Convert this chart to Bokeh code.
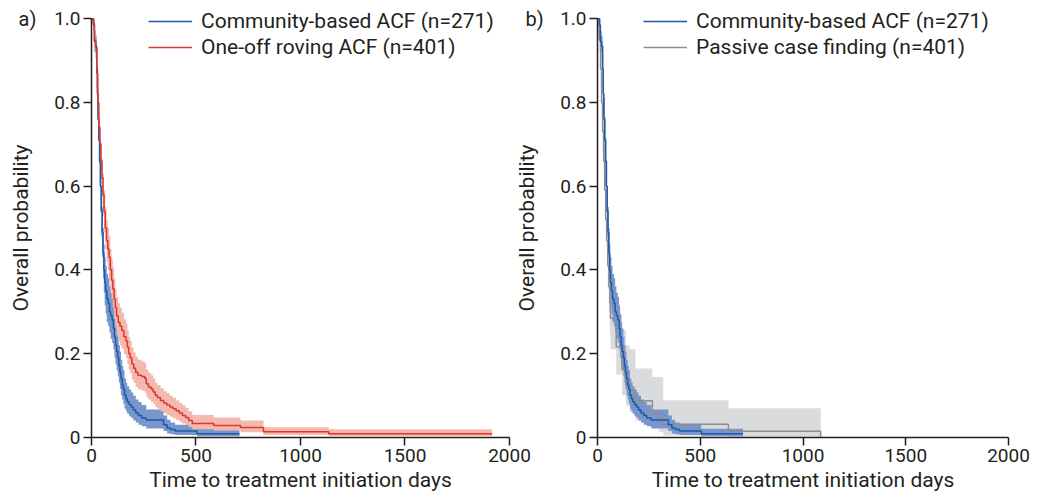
from bokeh.plotting import figure
from bokeh.layouts import row
from bokeh.models import Range1d, FixedTicker, Legend, LegendItem, Label
from bokeh.embed import file_html
from bokeh.resources import INLINE

FONT = "Roboto"
TXT = "#231f20"

# ---------------- data ----------------
x_ticks = [0, 500, 1000, 1500, 2000]
y_ticks = [0, 0.2, 0.4, 0.6, 0.8, 1.0]
y_tick_labels = ["0", "0.2", "0.4", "0.6", "0.8", "1.0"]

x_label = "Time to treatment initiation days"
y_label = "Overall probability"

community_label = "Community-based ACF (n=271)"
roving_label = "One-off roving ACF (n=401)"
passive_label = "Passive case finding (n=401)"

community_days = [0, 10, 14, 20, 25, 28, 31, 35, 39, 43, 47, 51, 55, 59, 63, 68, 73, 80, 86, 92,
                  99, 105, 110, 115, 120, 126, 131, 136, 141, 147, 152, 158, 165, 171, 180, 190,
                  200, 212, 225, 240, 262, 345, 362, 378, 400, 505, 708]
community_surv = [1.0, 0.985, 0.946, 0.935, 0.88, 0.82, 0.76, 0.71, 0.66, 0.60, 0.54, 0.49, 0.44,
                  0.40, 0.37, 0.35, 0.33, 0.32, 0.30, 0.29, 0.28, 0.26, 0.24, 0.22, 0.205, 0.19,
                  0.17, 0.155, 0.14, 0.125, 0.115, 0.10, 0.092, 0.085, 0.078, 0.072, 0.065, 0.058,
                  0.052, 0.046, 0.041, 0.030, 0.022, 0.0185, 0.015, 0.0085, 0.0085]
community_lo = [1.0, 0.97, 0.92, 0.905, 0.84, 0.775, 0.71, 0.655, 0.60, 0.54, 0.48, 0.43, 0.38,
                0.345, 0.315, 0.295, 0.275, 0.265, 0.25, 0.235, 0.225, 0.21, 0.19, 0.175, 0.16,
                0.145, 0.13, 0.115, 0.10, 0.09, 0.08, 0.068, 0.062, 0.056, 0.05, 0.046, 0.04,
                0.035, 0.03, 0.026, 0.021, 0.015, 0.009, 0.007, 0.005, 0.002, 0.002]
community_hi = [1.0, 1.0, 0.97, 0.96, 0.915, 0.86, 0.81, 0.765, 0.715, 0.66, 0.60, 0.55, 0.50,
                0.46, 0.43, 0.41, 0.39, 0.38, 0.36, 0.345, 0.335, 0.315, 0.295, 0.275, 0.26,
                0.24, 0.22, 0.205, 0.185, 0.17, 0.16, 0.14, 0.13, 0.122, 0.114, 0.107, 0.099,
                0.09, 0.084, 0.077, 0.066, 0.052, 0.042, 0.035, 0.03, 0.02, 0.02]

roving_days = [0, 8, 14, 20, 25, 30, 35, 40, 45, 50, 55, 60, 66, 72, 78, 84, 90, 96, 102, 108,
               114, 120, 128, 136, 145, 155, 165, 172, 178, 185, 193, 202, 211, 222, 240, 255,
               262, 272, 285, 295, 305, 315, 330, 345, 360, 375, 390, 405, 420, 435, 450, 465,
               482, 585, 713, 823, 1135, 1917]
roving_surv = [1.0, 0.99, 0.95, 0.93, 0.87, 0.80, 0.74, 0.70, 0.66, 0.62, 0.58, 0.54, 0.50, 0.47,
               0.45, 0.43, 0.40, 0.375, 0.355, 0.33, 0.31, 0.29, 0.275, 0.265, 0.255, 0.24, 0.23,
               0.215, 0.20, 0.19, 0.175, 0.165, 0.155, 0.148, 0.145, 0.14, 0.128, 0.12, 0.115,
               0.108, 0.10, 0.095, 0.088, 0.082, 0.077, 0.072, 0.068, 0.063, 0.058, 0.052, 0.047,
               0.04, 0.033, 0.028, 0.023, 0.013, 0.0085, 0.0085]
roving_lo = [1.0, 0.98, 0.93, 0.905, 0.835, 0.76, 0.70, 0.655, 0.615, 0.575, 0.53, 0.49, 0.45,
             0.42, 0.40, 0.38, 0.35, 0.33, 0.31, 0.285, 0.265, 0.245, 0.23, 0.22, 0.212, 0.198,
             0.19, 0.175, 0.162, 0.152, 0.138, 0.13, 0.12, 0.114, 0.111, 0.107, 0.096, 0.09,
             0.085, 0.079, 0.072, 0.068, 0.062, 0.057, 0.053, 0.049, 0.045, 0.041, 0.037, 0.033,
             0.029, 0.024, 0.019, 0.016, 0.012, 0.005, 0.003, 0.003]
roving_hi = [1.0, 1.0, 0.97, 0.955, 0.90, 0.835, 0.78, 0.745, 0.705, 0.665, 0.63, 0.59, 0.55,
             0.52, 0.50, 0.48, 0.45, 0.425, 0.405, 0.38, 0.355, 0.335, 0.32, 0.31, 0.298, 0.282,
             0.272, 0.255, 0.24, 0.23, 0.214, 0.203, 0.192, 0.185, 0.181, 0.176, 0.162, 0.154,
             0.148, 0.14, 0.13, 0.125, 0.117, 0.11, 0.105, 0.099, 0.094, 0.088, 0.082, 0.076,
             0.07, 0.062, 0.053, 0.047, 0.04, 0.024, 0.019, 0.019]

passive_days = [0, 2, 9, 15, 20, 25, 30, 35, 40, 45, 50, 55, 60, 63, 91, 119, 138, 157, 185,
                267, 300, 320, 637, 1086]
passive_surv = [1.0, 0.982, 0.95, 0.88, 0.80, 0.73, 0.66, 0.59, 0.52, 0.47, 0.41, 0.36, 0.32,
                0.284, 0.216, 0.162, 0.124, 0.112, 0.087, 0.058, 0.045, 0.031, 0.0144, 0.0]
passive_lo = [1.0, 0.96, 0.92, 0.84, 0.755, 0.68, 0.61, 0.535, 0.465, 0.415, 0.355, 0.30, 0.25,
              0.21, 0.15, 0.10, 0.075, 0.06, 0.04, 0.022, 0.012, 0.004, 0.001, 0.0]
passive_hi = [1.0, 1.0, 0.975, 0.915, 0.84, 0.775, 0.71, 0.645, 0.575, 0.525, 0.465, 0.42, 0.39,
              0.35, 0.29, 0.256, 0.22, 0.21, 0.164, 0.144, 0.144, 0.0885, 0.069, 0.0]

BLUE = "#1c5aa8"
BLUE_BAND = "#7896cb"
RED = "#e0342c"
RED_BAND = "#f3b8ae"
GREY = "#8e8e8e"
GREY_BAND = "#dadbdd"

H = 498
Y0, Y1 = -0.1465, 1.0437


def make_fig(width, x0, x1, panel_text, panel_x):
    p = figure(width=width, height=H, x_range=Range1d(x0, x1), y_range=Range1d(Y0, Y1),
               output_backend="svg", toolbar_location=None,
               min_border_left=0, min_border_right=0, min_border_top=0, min_border_bottom=0)
    p.grid.visible = False
    p.outline_line_color = None
    p.background_fill_alpha = 0
    p.border_fill_alpha = 0

    for ax in (p.xaxis[0], p.yaxis[0]):
        ax.fixed_location = 0
        ax.axis_line_color = TXT
        ax.axis_line_width = 1.5
        ax.major_tick_line_color = TXT
        ax.major_tick_line_width = 1.5
        ax.major_tick_out = 8
        ax.major_tick_in = 0
        ax.minor_tick_line_color = None
        ax.major_label_text_font = FONT
        ax.major_label_text_font_size = "19px"
        ax.major_label_text_color = TXT
        ax.axis_label_text_font = FONT
        ax.axis_label_text_font_size = "21px"
        ax.axis_label_text_font_style = "normal"
        ax.axis_label_text_color = TXT

    xa = p.xaxis[0]
    xa.ticker = FixedTicker(ticks=x_ticks)
    xa.bounds = (0, 2000)
    xa.axis_label = x_label
    xa.major_label_standoff = 4
    xa.axis_label_standoff = 2

    ya = p.yaxis[0]
    ya.ticker = FixedTicker(ticks=y_ticks)
    ya.bounds = (0, 1.0)
    ya.major_label_overrides = {t: s for t, s in zip(y_ticks, y_tick_labels)}
    ya.axis_label = y_label
    ya.major_label_standoff = 3
    ya.axis_label_standoff = 18

    p.add_layout(Label(x=panel_x, y=1.0, text=panel_text, text_font=FONT,
                       text_font_size="20px", text_color=TXT,
                       text_baseline="middle", text_align="left"))
    return p


def style_legend(items, vx):
    return Legend(items=items, location=(vx, H - 60), border_line_color=None,
                  background_fill_alpha=0, label_text_font=FONT,
                  label_text_font_size="21px", label_text_color=TXT,
                  glyph_width=44, glyph_height=26, label_height=26,
                  label_standoff=9, spacing=0, padding=0, margin=0)


# ---------------- panel a ----------------
pa = make_fig(538, -435.4, 2138.8, "a)", -349)
pa.background_fill_alpha = 1
pa.border_fill_alpha = 1
pa.varea_step(x=community_days, y1=community_lo, y2=community_hi, step_mode="after",
              fill_color=BLUE_BAND, fill_alpha=1)
pa.varea_step(x=roving_days, y1=roving_lo, y2=roving_hi, step_mode="after",
              fill_color=RED_BAND, fill_alpha=1)
ra1 = pa.step(x=community_days, y=community_surv, mode="after", line_color=BLUE, line_width=1.5)
ra2 = pa.step(x=roving_days, y=roving_surv, mode="after", line_color=RED, line_width=1.5)
pa.add_layout(style_legend([LegendItem(label=community_label, renderers=[ra1]),
                            LegendItem(label=roving_label, renderers=[ra2])], 148))

# ---------------- panel b ----------------
pb = make_fig(531, -423.4, 2160.6, "b)", -350)
pb.margin = (0, 0, 0, -28)
pb.varea_step(x=passive_days, y1=passive_lo, y2=passive_hi, step_mode="after",
              fill_color=GREY_BAND, fill_alpha=1)
pb.varea_step(x=community_days, y1=community_lo, y2=community_hi, step_mode="after",
              fill_color=BLUE_BAND, fill_alpha=1)
rb2 = pb.step(x=passive_days, y=passive_surv, mode="after", line_color=GREY, line_width=1.5)
rb1 = pb.step(x=community_days, y=community_surv, mode="after", line_color=BLUE, line_width=1.5)
pb.add_layout(style_legend([LegendItem(label=community_label, renderers=[rb1]),
                            LegendItem(label=passive_label, renderers=[rb2])], 133))

layout = row(pa, pb)
open("out.html", "w").write(file_html(layout, INLINE))
